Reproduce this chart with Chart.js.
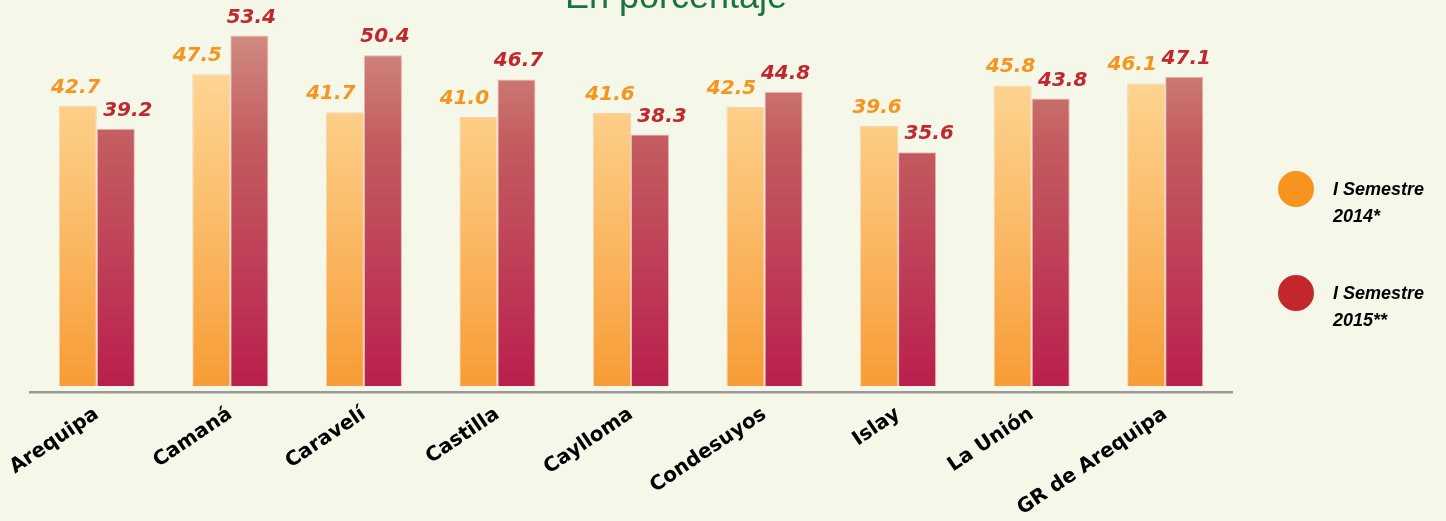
<!DOCTYPE html>
<html>
<head>
<meta charset="utf-8">
<script src="https://cdn.jsdelivr.net/npm/chart.js@4.4.1/dist/chart.umd.min.js"></script>
<style>
  html, body { margin: 0; padding: 0; background: #f5f8e9; overflow: hidden; }
  #wrap { position: relative; width: 1446px; height: 521px; }
</style>
</head>
<body>
<div id="wrap"><canvas id="chart" width="1446" height="521"></canvas></div>
<script>
const provincias = ['Arequipa', 'Camaná', 'Caravelí', 'Castilla', 'Caylloma', 'Condesuyos', 'Islay', 'La Unión', 'GR de Arequipa'];
const sem2014 = [42.7, 47.5, 41.7, 41.0, 41.6, 42.5, 39.6, 45.8, 46.1];
const sem2015 = [39.2, 53.4, 50.4, 46.7, 38.3, 44.8, 35.6, 43.8, 47.1];
const seriesNames = [['I Semestre', '2014*'], ['I Semestre', '2015**']];
const titulo = 'En porcentaje';

const ORANGE = '#f7941d';
const RED    = '#c1272d';

function barGradient(stops) {
  return (ctx) => {
    const area = ctx.chart.chartArea;
    if (!area) return stops[stops.length - 1][1];
    const y0 = ctx.chart.scales.y.getPixelForValue(53.4);
    const y1 = ctx.chart.scales.y.getPixelForValue(0);
    const g = ctx.chart.ctx.createLinearGradient(0, y0, 0, y1);
    stops.forEach(s => g.addColorStop(s[0], s[1]));
    return g;
  };
}

// value labels, legend and title drawn on the canvas
const decorations = {
  id: 'decorations',
  afterDatasetsDraw(chart) {
    const c = chart.ctx;
    c.save();
    c.font = 'italic bold 20px "DejaVu Sans"';
    c.textAlign = 'center';
    c.textBaseline = 'alphabetic';
    const m0 = chart.getDatasetMeta(0), m1 = chart.getDatasetMeta(1);
    m0.data.forEach((b0, i) => {
      const b1 = m1.data[i];
      // nudge the lower label outwards so the pair does not collide
      const lowOrange = b0.y > b1.y;
      const dx0 = lowOrange ? -14 : -2;
      const dx1 = lowOrange ? 2 : 12;
      c.fillStyle = ORANGE;
      c.fillText(sem2014[i].toFixed(1), b0.x + dx0, b0.y - 13);
      c.fillStyle = RED;
      c.fillText(sem2015[i].toFixed(1), b1.x + dx1, b1.y - 13);
    });

    // legend
    const legY = [189, 293];
    c.font = 'italic bold 18px "Liberation Sans"';
    c.textAlign = 'left';
    seriesNames.forEach((lines, i) => {
      c.fillStyle = i === 0 ? ORANGE : RED;
      c.beginPath();
      c.arc(1296, legY[i], 18, 0, Math.PI * 2);
      c.fill();
      c.fillStyle = '#000';
      c.fillText(lines[0], 1333, legY[i] + 6);
      c.fillText(lines[1], 1333, legY[i] + 33);
    });

    // title (cut at the top)
    c.font = '36px "Liberation Sans"';
    c.textAlign = 'center';
    c.fillStyle = '#1b743d';
    c.fillText(titulo, 676, 8);
    c.restore();
  }
};

new Chart(document.getElementById('chart').getContext('2d'), {
  type: 'bar',
  data: {
    labels: provincias,
    datasets: [
      {
        label: seriesNames[0].join(' '),
        data: sem2014,
        backgroundColor: barGradient([[0, '#fedc9e'], [0.5, '#fbbd6c'], [1, '#f79c36']]),
        borderColor: '#f6d2b0',
        borderWidth: 1,
        barPercentage: 1.0,
        categoryPercentage: 0.57,
      },
      {
        label: seriesNames[1].join(' '),
        data: sem2015,
        backgroundColor: barGradient([[0, '#d08a80'], [0.3, '#c35c60'], [0.55, '#c0485a'], [1, '#ba1f4d']]),
        borderColor: '#e9b4b0',
        borderWidth: 1,
        barPercentage: 1.0,
        categoryPercentage: 0.57,
      }
    ]
  },
  options: {
    responsive: false,
    animation: false,
    layout: { padding: { left: 30, right: 214, top: 25, bottom: 0 } },
    scales: {
      y: {
        display: false,
        min: -1, max: 55,
      },
      x: {
        grid: { display: false, drawTicks: false },
        border: { display: true, color: '#999999', width: 2.5 },
        ticks: {
          color: '#000',
          font: { family: '"DejaVu Sans"', weight: 'bold', size: 20 },
          maxRotation: 34, minRotation: 34,
          padding: 10,
          autoSkip: false,
        },
        afterFit: (scale) => {
          scale.height = 128.5;
          scale.paddingLeft = 0;
          scale.paddingRight = 0;
        }
      }
    },
    plugins: {
      legend: { display: false },
      tooltip: { enabled: false },
    }
  },
  plugins: [decorations]
});
</script>
</body>
</html>
